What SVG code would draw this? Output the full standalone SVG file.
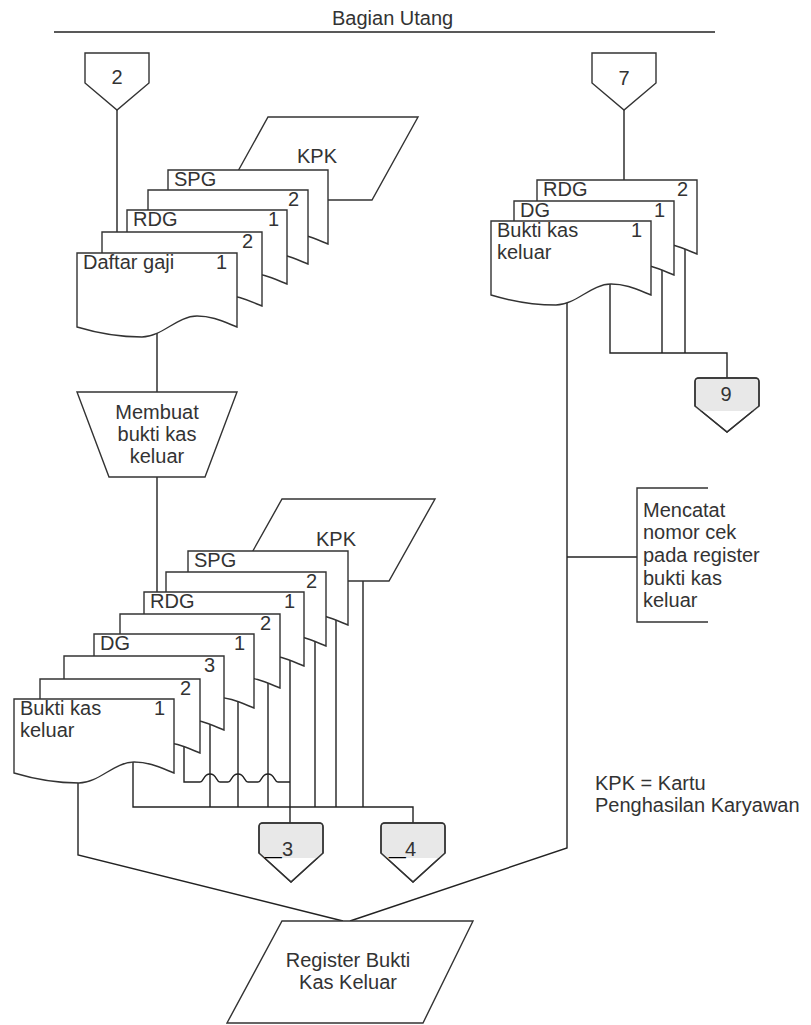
<svg xmlns="http://www.w3.org/2000/svg" xmlns:xlink="http://www.w3.org/1999/xlink" width="811" height="1025" viewBox="0 0 811 1025">
<style>
.s{fill:#fff;stroke:#333;stroke-width:1.4;stroke-linejoin:miter}
.l{fill:none;stroke:#222;stroke-width:1.4}
.g{fill:#e8e8e8;stroke:none}
text{font-family:"Liberation Sans",Arial,sans-serif;font-size:20px;fill:#333}
.e{text-anchor:end}
.m{text-anchor:middle}
.us{font-size:30px;font-weight:bold;fill:#000}
</style>
<defs>
<path id="doc" class="s" d="M0,0 H160 V74 C145,68 135,63 120,63 C100,63 85,84 65,84 C40,84 20,80 0,74 Z"/>
<path id="opc" class="s" d="M0,0 H64 V30 L32,57 L0,30 Z"/>
</defs>
<rect width="811" height="1025" fill="#fff"/>

<g id="header">
<line x1="54" y1="32" x2="715" y2="32" stroke="#222" stroke-width="1.5"/>
<text x="332" y="25">Bagian Utang</text>
</g>

<g id="connectors">
<path class="l" d="M117,109 V232"/>
<path class="l" d="M157,320 V392"/>
<path class="l" d="M157,477 V592"/>
<path class="l" d="M624,110 V180"/>
<path class="l" d="M567,295 V848 L350,921"/>
<path class="l" d="M610,275 V353 H727 V378"/>
<path class="l" d="M662,260 V353"/>
<path class="l" d="M685,240 V353"/>
<path class="l" d="M567,557 H637"/>
<path class="l" d="M78,770 V855 L343,921"/>
<path class="l" d="M133,750 V807 H413 V823"/>
<path class="l" d="M184,735 V782 H200 C204,782 203,774 210,774 C217,774 216,782 220,782 H228 C232,782 231,774 238,774 C245,774 244,782 248,782 H258 C262,782 261,774 268,774 C275,774 274,782 278,782 H290"/>
<path class="l" d="M210,715 V807"/>
<path class="l" d="M238,690 V807"/>
<path class="l" d="M268,672 V807"/>
<path class="l" d="M290,650 V823"/>
<path class="l" d="M315,630 V807"/>
<path class="l" d="M336,610 V807"/>
<path class="l" d="M363,581 V807"/>
</g>

<g id="conn-2">
<use xlink:href="#opc" href="#opc" x="85" y="53"/>
<text x="117" y="84" class="m">2</text>
</g>
<g id="conn-7">
<use xlink:href="#opc" href="#opc" x="592" y="53"/>
<text x="624" y="85" class="m">7</text>
</g>

<g id="tl-kpk">
<path class="s" d="M268,117 H418 L372,200 H222 Z"/>
<text x="317" y="163" class="m">KPK</text>
</g>
<g id="tl-spg">
<use xlink:href="#doc" href="#doc" x="168" y="170"/>
<text x="174" y="186">SPG</text>
</g>
<g id="tl-rdg2">
<use xlink:href="#doc" href="#doc" x="148" y="190"/>
<text x="299" y="206" class="e">2</text>
</g>
<g id="tl-rdg1">
<use xlink:href="#doc" href="#doc" x="127" y="210"/>
<text x="133" y="226">RDG</text>
<text x="279" y="226" class="e">1</text>
</g>
<g id="tl-dg2">
<use xlink:href="#doc" href="#doc" x="102" y="232"/>
<text x="253" y="248" class="e">2</text>
</g>
<g id="tl-dg1">
<use xlink:href="#doc" href="#doc" x="77" y="253"/>
<text x="83" y="269">Daftar gaji</text>
<text x="227" y="269" class="e">1</text>
</g>

<g id="proc-membuat">
<path class="s" d="M77,392 H237 L205,477 H109 Z"/>
<text x="157" y="419" class="m">Membuat</text>
<text x="157" y="441" class="m">bukti kas</text>
<text x="157" y="463" class="m">keluar</text>
</g>

<g id="tr-rdg">
<use xlink:href="#doc" href="#doc" x="537" y="180"/>
<text x="543" y="196">RDG</text>
<text x="688" y="196" class="e">2</text>
</g>
<g id="tr-dg">
<use xlink:href="#doc" href="#doc" x="514" y="201"/>
<text x="520" y="217">DG</text>
<text x="665" y="217" class="e">1</text>
</g>
<g id="tr-bkk">
<use xlink:href="#doc" href="#doc" x="491" y="221"/>
<text x="497" y="237">Bukti kas</text>
<text x="497" y="259">keluar</text>
<text x="642" y="237" class="e">1</text>
</g>

<g id="conn-9">
<path class="s" d="M695,406 V382 Q695,378 699,378 H755 Q759,378 759,382 V406 L727,432 Z"/>
<path class="g" d="M696,379 H758 V408 L755,411 H699 L696,408 Z"/>
<path class="l" style="stroke:#333" d="M695,406 V382 Q695,378 699,378 H755 Q759,378 759,382 V406 L727,432 Z"/>
<text x="726" y="401" class="m">9</text>
</g>

<g id="annot">
<path class="l" style="stroke:#333" d="M708,488 H637 V622 H708"/>
<text x="643" y="517">Mencatat</text>
<text x="643" y="539">nomor cek</text>
<text x="643" y="562">pada register</text>
<text x="643" y="585">bukti kas</text>
<text x="643" y="607">keluar</text>
</g>

<g id="bl-kpk">
<path class="s" d="M282,499 H435 L389,581 H236 Z"/>
<text x="336" y="546" class="m">KPK</text>
</g>
<g id="bl-spg">
<use xlink:href="#doc" href="#doc" x="188" y="551"/>
<text x="194" y="567">SPG</text>
</g>
<g id="bl-rdg2">
<use xlink:href="#doc" href="#doc" x="166" y="572"/>
<text x="317" y="588" class="e">2</text>
</g>
<g id="bl-rdg1">
<use xlink:href="#doc" href="#doc" x="144" y="592"/>
<text x="150" y="608">RDG</text>
<text x="295" y="608" class="e">1</text>
</g>
<g id="bl-dg2">
<use xlink:href="#doc" href="#doc" x="120" y="614"/>
<text x="271" y="630" class="e">2</text>
</g>
<g id="bl-dg1">
<use xlink:href="#doc" href="#doc" x="94" y="634"/>
<text x="100" y="650">DG</text>
<text x="245" y="650" class="e">1</text>
</g>
<g id="bl-bkk3">
<use xlink:href="#doc" href="#doc" x="64" y="656"/>
<text x="215" y="672" class="e">3</text>
</g>
<g id="bl-bkk2">
<use xlink:href="#doc" href="#doc" x="40" y="679"/>
<text x="191" y="695" class="e">2</text>
</g>
<g id="bl-bkk1">
<use xlink:href="#doc" href="#doc" x="14" y="699"/>
<text x="20" y="715">Bukti kas</text>
<text x="20" y="737">keluar</text>
<text x="165" y="715" class="e">1</text>
</g>

<g id="conn-3">
<path class="s" d="M259,853 V827 Q259,823 263,823 H319 Q323,823 323,827 V853 L291,882 Z"/>
<path class="g" d="M260,824 H322 V854 L318,858 H264 L260,854 Z"/>
<path class="l" style="stroke:#333" d="M259,853 V827 Q259,823 263,823 H319 Q323,823 323,827 V853 L291,882 Z"/>
<text y="856"><tspan class="us" x="265" y="855">_</tspan><tspan x="282" y="856">3</tspan></text>
</g>
<g id="conn-4">
<path class="s" d="M381,853 V827 Q381,823 385,823 H441 Q445,823 445,827 V853 L413,882 Z"/>
<path class="g" d="M382,824 H444 V854 L440,858 H386 L382,854 Z"/>
<path class="l" style="stroke:#333" d="M381,853 V827 Q381,823 385,823 H441 Q445,823 445,827 V853 L413,882 Z"/>
<text y="856"><tspan class="us" x="389" y="855">_</tspan><tspan x="405" y="856">4</tspan></text>
</g>

<g id="register">
<path class="s" d="M282,921 H473 L423,1023 H227 Z"/>
<text x="348" y="967" class="m">Register Bukti</text>
<text x="348" y="989" class="m">Kas Keluar</text>
</g>

<g id="legend">
<text x="595" y="790">KPK = Kartu</text>
<text x="595" y="812">Penghasilan Karyawan</text>
</g>
</svg>
